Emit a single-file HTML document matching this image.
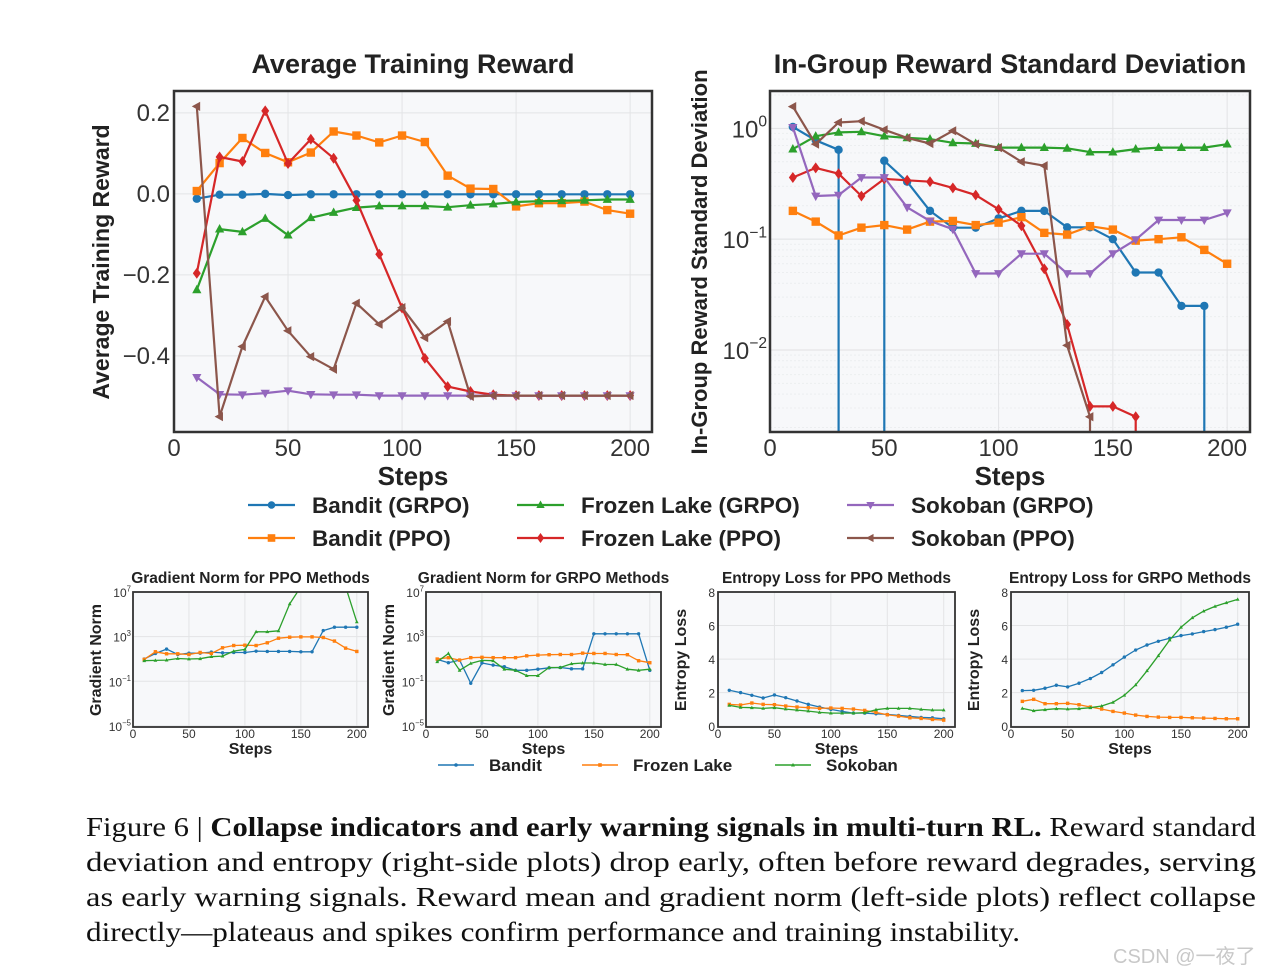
<!DOCTYPE html>
<html><head><meta charset="utf-8"><style>
html,body{margin:0;padding:0;background:#fff;width:1280px;height:976px;overflow:hidden;}
svg{display:block;font-family:"Liberation Sans","DejaVu Sans",sans-serif;}
</style></head><body>
<svg id="fig" width="1280" height="976" viewBox="0 0 1280 976" xmlns="http://www.w3.org/2000/svg">
<defs>
<clipPath id="c1"><rect x="174" y="91" width="478" height="341"/></clipPath>
<clipPath id="c2"><rect x="770" y="91" width="480" height="341"/></clipPath>
<clipPath id="c3"><rect x="133" y="592" width="235" height="135"/></clipPath>
<clipPath id="c4"><rect x="426" y="592" width="235" height="135"/></clipPath>
<clipPath id="c5"><rect x="718" y="592" width="237" height="135"/></clipPath>
<clipPath id="c6"><rect x="1011" y="592" width="238" height="135"/></clipPath>
</defs>
</svg>
<script>
// ---------- data ----------
const steps = [10,20,30,40,50,60,70,80,90,100,110,120,130,140,150,160,170,180,190,200];
const xTicks = [0,50,100,150,200];

// Average training reward
const rewBanditGRPO = [-0.012,-0.002,-0.002,0.0,-0.003,-0.001,-0.001,-0.001,-0.001,-0.001,-0.001,-0.001,-0.001,-0.001,-0.001,-0.001,-0.001,-0.001,-0.001,-0.001];
const rewBanditPPO = [0.007,0.076,0.138,0.101,0.078,0.102,0.154,0.144,0.127,0.144,0.128,0.045,0.013,0.012,-0.031,-0.023,-0.023,-0.019,-0.040,-0.049];
const rewFrozenGRPO = [-0.237,-0.087,-0.094,-0.061,-0.102,-0.059,-0.046,-0.034,-0.030,-0.030,-0.030,-0.033,-0.028,-0.025,-0.020,-0.018,-0.017,-0.016,-0.014,-0.014];
const rewFrozenPPO = [-0.196,0.091,0.080,0.205,0.075,0.135,0.088,-0.016,-0.149,-0.282,-0.406,-0.476,-0.488,-0.496,-0.498,-0.498,-0.498,-0.498,-0.498,-0.498];
const rewSokobanGRPO = [-0.453,-0.495,-0.496,-0.492,-0.486,-0.495,-0.496,-0.496,-0.498,-0.498,-0.498,-0.498,-0.498,-0.498,-0.498,-0.498,-0.498,-0.498,-0.498,-0.498];
const rewSokobanPPO = [0.216,-0.55,-0.377,-0.254,-0.338,-0.402,-0.433,-0.27,-0.322,-0.281,-0.355,-0.315,-0.5,-0.498,-0.498,-0.498,-0.498,-0.498,-0.498,-0.498];
const rewTicks = [0.2,0.0,-0.2,-0.4];
const rewTickLabels = ["0.2","0.0","\u22120.2","\u22120.4"];

// In-group reward std
const stdBanditGRPO = [1.03,0.78,0.64,0,0.51,0.33,0.18,0.127,0.127,0.154,0.18,0.18,0.128,0.128,0.10,0.05,0.05,0.025,0.025,0];
const stdBanditPPO = [0.18,0.144,0.108,0.127,0.134,0.122,0.144,0.146,0.134,0.141,0.158,0.114,0.110,0.131,0.122,0.097,0.100,0.104,0.080,0.060];
const stdFrozenGRPO = [0.65,0.85,0.92,0.93,0.85,0.82,0.80,0.74,0.73,0.67,0.67,0.67,0.66,0.61,0.61,0.65,0.67,0.67,0.67,0.72];
const stdFrozenPPO = [0.36,0.44,0.39,0.245,0.35,0.34,0.33,0.29,0.25,0.186,0.132,0.054,0.017,0.0031,0.0031,0.0025,0,0,0,0];
const stdSokobanGRPO = [1.02,0.245,0.25,0.36,0.36,0.194,0.146,0.123,0.049,0.049,0.074,0.074,0.049,0.049,0.074,0.099,0.149,0.149,0.149,0.173];
const stdSokobanPPO = [1.57,0.72,1.13,1.16,0.97,0.82,0.73,0.95,0.72,0.67,0.50,0.46,0.011,0.0025,0,0,0,0,0,0];
const stdTickExp = [0,-1,-2];

// Gradient norm PPO
const gnPPOBandit = [9.8,31,76,25,33,33,41,35,38,38,50,47,47,47,44,44,3500,7000,7000,7000];
const gnPPOFrozen = [9.1,44,29,29,25,38,31,100,160,170,160,280,720,890,950,950,830,400,93,47];
const gnPPOSokoban = [6.9,7.4,7.9,11,9.8,10.5,16,18,50,71,2700,2700,3300,850000,30000000,1000000000,1000000000,1000000000,30000000,21000];
// Gradient norm GRPO
const gnGRPOBandit = [9.1,4.6,7.9,0.066,4.3,2.8,2.0,0.95,0.95,1.2,1.6,1.7,1.3,1.3,1800,1800,1800,1800,1800,0.95];
const gnGRPOFrozen = [9.8,13,7.9,13,14,13,13,13,19,22,24,25,25,33,31,31,25,24,6.9,4.6];
const gnGRPOSokoban = [5.6,31,0.95,4.0,7.4,6.9,1.2,0.95,0.32,0.32,1.7,1.7,3.7,4.3,4.3,3.2,3.2,1.2,0.95,1.2];
const gnTickExp = [7,3,-1,-5];
// Entropy PPO
const entPPOBandit = [2.14,2.0,1.84,1.68,1.86,1.7,1.5,1.3,1.14,1.0,0.88,0.78,0.78,0.74,0.70,0.64,0.58,0.52,0.50,0.44];
const entPPOFrozen = [1.3,1.26,1.38,1.3,1.28,1.2,1.14,1.1,1.06,1.08,1.06,1.02,0.94,0.82,0.68,0.6,0.5,0.46,0.4,0.36];
const entPPOSokoban = [1.24,1.12,1.1,1.06,1.1,1.02,0.96,0.9,0.82,0.78,0.78,0.78,0.8,0.98,1.06,1.06,1.06,1.0,0.96,0.96];
// Entropy GRPO
const entGRPOBandit = [2.12,2.14,2.26,2.44,2.34,2.56,2.84,3.2,3.66,4.12,4.54,4.84,5.06,5.24,5.4,5.5,5.64,5.76,5.9,6.08];
const entGRPOFrozen = [1.48,1.6,1.34,1.34,1.36,1.28,1.14,1.02,0.88,0.78,0.66,0.58,0.54,0.52,0.52,0.5,0.48,0.46,0.44,0.44];
const entGRPOSokoban = [1.06,0.92,0.98,1.04,1.02,1.04,1.1,1.2,1.42,1.84,2.46,3.3,4.2,5.14,5.9,6.46,6.86,7.14,7.36,7.56];
const entTicks = [0,2,4,6,8];

// ---------- drawing ----------
const NS = "http://www.w3.org/2000/svg";
const svg = document.getElementById("fig");
const C = {blue:"#1f77b4",orange:"#ff7f0e",green:"#2ca02c",red:"#d62728",purple:"#9467bd",brown:"#8c564b"};
function mk(tag, parent, attrs){
  const e = document.createElementNS(NS, tag);
  for (const k in attrs) e.setAttribute(k, attrs[k]);
  parent.appendChild(e);
  return e;
}
function txt(parent, x, y, s, size, opts){
  opts = opts || {};
  const t = mk("text", parent, {x:x, y:y, "font-size":size, fill:opts.fill||"#222", "text-anchor":opts.anchor||"middle", "font-weight":opts.weight||"normal"});
  if (opts.rot) t.setAttribute("transform", "rotate(-90 "+x+" "+y+")");
  t.textContent = s;
  return t;
}
function marker(g, type, x, y, r, color){
  let e;
  if (type==="o") e = mk("circle", g, {cx:x, cy:y, r:r, fill:color});
  else if (type==="s") e = mk("rect", g, {x:x-r, y:y-r, width:2*r, height:2*r, fill:color});
  else {
    let p;
    if (type==="^") p=[[x,y-r*1.2],[x-r*1.1,y+r*0.8],[x+r*1.1,y+r*0.8]];
    else if (type==="v") p=[[x,y+r*1.2],[x-r*1.1,y-r*0.8],[x+r*1.1,y-r*0.8]];
    else if (type==="<") p=[[x-r*1.2,y],[x+r*0.8,y-r*1.1],[x+r*0.8,y+r*1.1]];
    else p=[[x,y-r*1.3],[x+r*0.95,y],[x,y+r*1.3],[x-r*0.95,y]];
    e = mk("polygon", g, {points:p.map(q=>q.join(",")).join(" "), fill:color});
  }
  
  
}
function axes(cfg){
  const sx = s => cfg.x0 + (s-cfg.xmin)/(cfg.xmax-cfg.xmin)*(cfg.x1-cfg.x0);
  const sy = v => {
    if (cfg.log){ if (v<=0) return null; return cfg.y1 - (Math.log10(v)-cfg.ymin)/(cfg.ymax-cfg.ymin)*(cfg.y1-cfg.y0); }
    return cfg.y1 - (v-cfg.ymin)/(cfg.ymax-cfg.ymin)*(cfg.y1-cfg.y0);
  };
  return {sx, sy};
}
function series(g, cfg, ax, vals, color, m, name){
  const sg = mk("g", g, {"clip-path":"url(#"+cfg.clip+")"});
  
  
  const pts = steps.map((s,i)=>[ax.sx(s), ax.sy(vals[i])]);
  const bot = cfg.y1 + 6;
  let d = "";
  for (let i=0;i<pts.length;i++){
    const p = pts[i];
    if (p[1]===null){
      if (i>0 && pts[i-1][1]!==null) d += " L"+pts[i-1][0].toFixed(1)+","+bot;
      continue;
    }
    if (i===0) d += "M"+p[0].toFixed(1)+","+p[1].toFixed(1);
    else if (pts[i-1][1]===null) d += " M"+p[0].toFixed(1)+","+bot+" L"+p[0].toFixed(1)+","+p[1].toFixed(1);
    else d += " L"+p[0].toFixed(1)+","+p[1].toFixed(1);
  }
  const pl = mk("path", sg, {d:d.trim(), fill:"none", stroke:color, "stroke-width":cfg.lw, "stroke-linejoin":"round"});
  
  
  pts.forEach(p=>{ if (p[1]!==null) marker(sg, m, p[0], p[1], cfg.mr, color); });
}
function frame(g, cfg){
  const bg = mk("rect", g, {x:cfg.x0, y:cfg.y0, width:cfg.x1-cfg.x0, height:cfg.y1-cfg.y0, fill:"#f7f8fa"});
  
  
}
function border(g, cfg){
  const b = mk("rect", g, {x:cfg.x0, y:cfg.y0, width:cfg.x1-cfg.x0, height:cfg.y1-cfg.y0, fill:"none", stroke:"#333", "stroke-width":cfg.bw});
  
  
}
function vgrid(g, cfg, ax){
  xTicks.forEach(t=>{
    const l = mk("line", g, {x1:ax.sx(t), x2:ax.sx(t), y1:cfg.y0, y2:cfg.y1, stroke:"#e3e4e6", "stroke-width":1});
    
    
    const lb = txt(g, ax.sx(t), cfg.y1+cfg.tickDy, String(t), cfg.tickSize, {fill:"#333"});
    
    
  });
}
function hline(g, cfg, y, color, dash){
  const l = mk("line", g, {x1:cfg.x0, x2:cfg.x1, y1:y, y2:y, stroke:color, "stroke-width":1});
  if (dash) l.setAttribute("stroke-dasharray", dash);
  
  
}
function logTick(g, x, y, e, size){
  const t = mk("text", g, {x:x, y:y, "font-size":size, fill:"#333", "text-anchor":"end"});
  
  
  const a = mk("tspan", t, {}); a.textContent = "10";
  const b = mk("tspan", t, {dy:-size*0.45, "font-size":size*0.65}); b.textContent = e<0 ? "\u2212"+(-e) : String(e);
}

const seriesList = [
  ["blue","o"],["orange","s"],["green","^"],["red","D"],["purple","v"],["brown","<"]
];

// ---- Chart 1
(function(){
  const g = mk("g", svg, {});
  
  
  const cfg = {x0:174,x1:652,y0:91,y1:432,xmin:0,xmax:209.6,ymin:-0.588,ymax:0.254,log:false,clip:"c1",lw:2.2,mr:4.2,bw:2.5,tickDy:24,tickSize:24};
  const ax = axes(cfg);
  frame(g,cfg);
  vgrid(g,cfg,ax);
  rewTicks.forEach((t,i)=>{ hline(g,cfg,ax.sy(t),"#e3e4e6");
    const lb = txt(g, 170, ax.sy(t)+8, rewTickLabels[i], 24, {anchor:"end", fill:"#333"});
    
     });
  const data = [rewBanditGRPO,rewBanditPPO,rewFrozenGRPO,rewFrozenPPO,rewSokobanGRPO,rewSokobanPPO];
  const names = ["bandit-grpo","bandit-ppo","frozen-lake-grpo","frozen-lake-ppo","sokoban-grpo","sokoban-ppo"];
  data.forEach((d,i)=>series(g,cfg,ax,d,C[seriesList[i][0]],seriesList[i][1],names[i]+"-series"));
  border(g,cfg);
  const t1 = txt(g, 413, 73, "Average Training Reward", 27, {weight:"bold"});
  
  
  const t2 = txt(g, 109, 262, "Average Training Reward", 23, {weight:"bold", rot:true});
  
  
  const t3 = txt(g, 413, 485, "Steps", 26, {weight:"bold"});
  
  
})();

// ---- Chart 2
(function(){
  const g = mk("g", svg, {});
  
  
  const cfg = {x0:770,x1:1250,y0:91,y1:432,xmin:0,xmax:210,ymin:-2.74,ymax:0.337,log:true,clip:"c2",lw:2.2,mr:4.2,bw:2.5,tickDy:24,tickSize:24};
  const ax = axes(cfg);
  frame(g,cfg);
  for (let e=-3;e<=0;e++) for (let k=2;k<=9;k++){ const y=ax.sy(k*Math.pow(10,e)); if(y>cfg.y0&&y<cfg.y1) hline(g,cfg,y,"#eceef0","2,2"); }
  vgrid(g,cfg,ax);
  stdTickExp.forEach(e=>{ const y=ax.sy(Math.pow(10,e)); hline(g,cfg,y,"#e0e1e3"); logTick(g, 767, y+9, e, 24); });
  const data = [stdBanditGRPO,stdBanditPPO,stdFrozenGRPO,stdFrozenPPO,stdSokobanGRPO,stdSokobanPPO];
  const names = ["bandit-grpo","bandit-ppo","frozen-lake-grpo","frozen-lake-ppo","sokoban-grpo","sokoban-ppo"];
  data.forEach((d,i)=>series(g,cfg,ax,d,C[seriesList[i][0]],seriesList[i][1],names[i]+"-series"));
  border(g,cfg);
  const t1 = txt(g, 1010, 73, "In-Group Reward Standard Deviation", 27, {weight:"bold"});
  
  
  const t2 = txt(g, 707, 262, "In-Group Reward Standard Deviation", 22, {weight:"bold", rot:true});
  
  
  const t3 = txt(g, 1010, 485, "Steps", 26, {weight:"bold"});
  
  
})();

// ---- top legend
(function(){
  const g = mk("g", svg, {});
  
  
  const items = [
    [248,505,"Bandit (GRPO)","blue","o"],[517,505,"Frozen Lake (GRPO)","green","^"],[847,505,"Sokoban (GRPO)","purple","v"],
    [248,538,"Bandit (PPO)","orange","s"],[517,538,"Frozen Lake (PPO)","red","D"],[847,538,"Sokoban (PPO)","brown","<"]];
  items.forEach(it=>{
    const e = mk("g", g, {});
    
    
    mk("line", e, {x1:it[0], x2:it[0]+47, y1:it[1], y2:it[1], stroke:C[it[3]], "stroke-width":2.2});
    marker(e, it[4], it[0]+23.5, it[1], 3.8, C[it[3]]);
    txt(e, it[0]+64, it[1]+8, it[2], 22.5, {anchor:"start", weight:"bold", fill:"#222"});
  });
})();

// ---- small charts
function small(opts){
  const g = mk("g", svg, {});
  
  
  const cfg = Object.assign({y0:592,y1:727,xmin:0,xmax:210,lw:1.3,mr:1.7,bw:1.8,tickDy:11,tickSize:12}, opts.cfg);
  const ax = axes(cfg);
  frame(g,cfg);
  vgrid(g,cfg,ax);
  if (cfg.log){
    gnTickExp.forEach(e=>{ const y=ax.sy(Math.pow(10,e)); hline(g,cfg,y,"#e3e4e6"); logTick(g, cfg.x0-2, y+5, e, 12); });
  } else {
    entTicks.forEach(t=>{ const y=ax.sy(t); hline(g,cfg,y,"#e3e4e6");
      const lb = txt(g, cfg.x0-3, y+5, String(t), 12, {anchor:"end", fill:"#333"});
      
       });
  }
  const cols = [["blue","o","bandit"],["orange","s","frozen-lake"],["green","^","sokoban"]];
  opts.data.forEach((d,i)=>series(g,cfg,ax,d,C[cols[i][0]],cols[i][1],cols[i][2]+"-series"));
  border(g,cfg);
  const cx = (cfg.x0+cfg.x1)/2;
  const t1 = txt(g, cx, 583, opts.title, 15.5, {weight:"bold"});
  
  
  const t2 = txt(g, cfg.x0-32, 660, opts.ylabel, 16, {weight:"bold", rot:true});
  
  
  const t3 = txt(g, cx, 754, "Steps", 16, {weight:"bold"});
  
  
}
small({name:"gradient-norm-ppo-chart", title:"Gradient Norm for PPO Methods", ylabel:"Gradient Norm",
  cfg:{x0:133,x1:368,log:true,ymin:-5.1,ymax:7,clip:"c3"}, data:[gnPPOBandit,gnPPOFrozen,gnPPOSokoban]});
small({name:"gradient-norm-grpo-chart", title:"Gradient Norm for GRPO Methods", ylabel:"Gradient Norm",
  cfg:{x0:426,x1:661,log:true,ymin:-5.1,ymax:7,clip:"c4"}, data:[gnGRPOBandit,gnGRPOFrozen,gnGRPOSokoban]});
small({name:"entropy-ppo-chart", title:"Entropy Loss for PPO Methods", ylabel:"Entropy Loss",
  cfg:{x0:718,x1:955,log:false,ymin:-0.05,ymax:8,clip:"c5"}, data:[entPPOBandit,entPPOFrozen,entPPOSokoban]});
small({name:"entropy-grpo-chart", title:"Entropy Loss for GRPO Methods", ylabel:"Entropy Loss",
  cfg:{x0:1011,x1:1249,log:false,ymin:-0.05,ymax:8,clip:"c6"}, data:[entGRPOBandit,entGRPOFrozen,entGRPOSokoban]});

// bottom legend
(function(){
  const g = mk("g", svg, {});
  
  
  const items = [[438,"Bandit","blue","o"],[582,"Frozen Lake","orange","s"],[775,"Sokoban","green","^"]];
  items.forEach(it=>{
    const e = mk("g", g, {});
    
    
    mk("line", e, {x1:it[0], x2:it[0]+36, y1:765, y2:765, stroke:C[it[2]], "stroke-width":1.4});
    marker(e, it[3], it[0]+18, 765, 1.8, C[it[2]]);
    txt(e, it[0]+51, 771, it[1], 17, {anchor:"start", weight:"bold", fill:"#222"});
  });
})();

// caption
(function(){
  const g = mk("g", svg, {"font-family":"\"Liberation Serif\",serif"});
  
  
  const lines = [
    [836, [["Figure 6 | ","normal"],["Collapse indicators and early warning signals in multi-turn RL.","bold"],[" Reward standard","normal"]], 1170],
    [871, [["deviation and entropy (right-side plots) drop early, often before reward degrades, serving","normal"]], 1170],
    [906, [["as early warning signals.  Reward mean and gradient norm (left-side plots) reflect collapse","normal"]], 1170],
    [941, [["directly\u2014plateaus and spikes confirm performance and training instability.","normal"]], 934]
  ];
  lines.forEach(l=>{
    const t = mk("text", g, {x:86, y:l[0], "font-size":27, fill:"#111", textLength:l[2], lengthAdjust:"spacingAndGlyphs"});
    l[1].forEach(p=>{ const s = mk("tspan", t, {"font-weight":p[1]}); s.textContent = p[0]; });
  });
  const w = mk("text", svg, {x:1113, y:963, "font-size":20, fill:"#c8c8c8", "font-family":"\"Liberation Sans\",\"Noto Sans CJK SC\",sans-serif"});
  
  
  w.textContent = "CSDN @\u4e00\u591c\u4e86";
})();
</script>
</body></html>
